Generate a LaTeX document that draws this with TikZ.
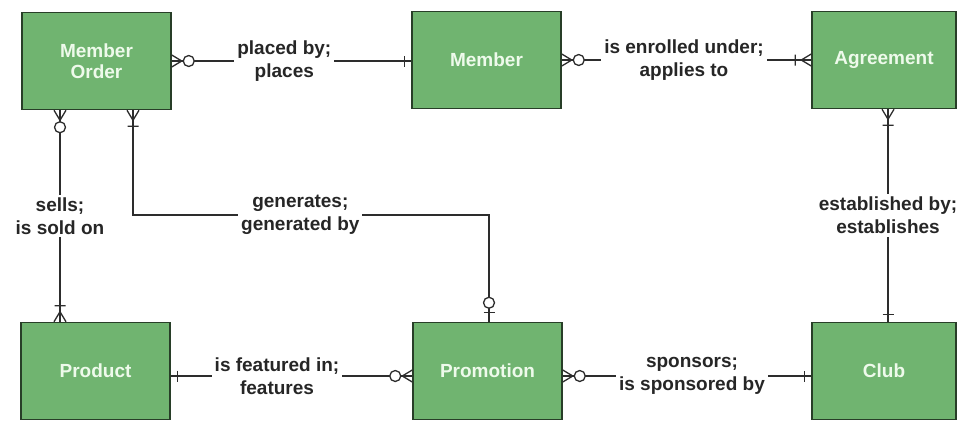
\documentclass[tikz,border=0pt]{standalone}
\usepackage{fontspec}
\setmainfont{Liberation Sans}
\definecolor{entfill}{RGB}{112,180,112}
\definecolor{entdraw}{RGB}{40,62,40}
\definecolor{conncol}{RGB}{45,45,45}
\begin{document}
\begin{tikzpicture}[x=1pt,y=-1pt,
  ent/.style={draw=entdraw, line width=1.5pt, fill=entfill, minimum width=149pt, minimum height=97pt,
    text={rgb,255:red,238;green,250;blue,235}, font=\fontsize{19}{21}\selectfont\bfseries, align=center, inner sep=0pt},
  conn/.style={draw=conncol, line width=1.3pt},
  lbl/.style={fill=white, font=\fontsize{19}{23}\selectfont\bfseries, align=center, inner sep=3pt, text=black!85},
  zmany/.pic={\draw[conn] (0,6)--(10,0) (0,-6)--(10,0); \draw[conn,fill=white] (17,0) circle[radius=5.5];},
  omany/.pic={\draw[conn] (0,6)--(10,0) (0,-6)--(10,0) (16,-5.5)--(16,5.5);},
  onemark/.pic={\draw[conn] (7,-5.5)--(7,5.5);},
  zone/.pic={\draw[conn] (9,-5.5)--(9,5.5); \draw[conn,fill=white] (19,0) circle[radius=5.5];}
]
\useasboundingbox (0,0) rectangle (957,421);

\node[ent] (mo)   at (96.5,61) {Member\\Order};
\node[ent] (mem)  at (486.5,60)  {Member};
\node[ent, minimum width=144pt] (agr) at (884,60) {Agreement};
\node[ent] (prod) at (95.5,371)  {Product};
\node[ent] (prom) at (487.5,371) {Promotion};
\node[ent, minimum width=144pt] (club) at (884,371) {Club};

\coordinate (gy) at (0,215);

% Member Order -- Member
\draw[conn] (mo.east) -- node[lbl,pos=0.47] {placed by;\\places} (mo.east -| mem.west);
\pic at (mo.east) {zmany};
\pic[rotate=180] at (mo.east -| mem.west) {onemark};

% Member -- Agreement
\draw[conn] (mem.east) -- node[lbl,pos=0.49] {is enrolled under;\\applies to} (agr.west);
\pic at (mem.east) {zmany};
\pic[rotate=180] at (agr.west) {omany};

% Member Order -- Product
\draw[conn] ([xshift=-36.5pt]mo.south) -- node[lbl,pos=0.5] {sells;\\is sold on} ([xshift=-35.5pt]prod.north);
\pic[rotate=-90] at ([xshift=-36.5pt]mo.south) {zmany};
\pic[rotate=90] at ([xshift=-35.5pt]prod.north) {omany};

% Member Order -- Promotion
\draw[conn] ([xshift=36.5pt]mo.south) -- ([xshift=36.5pt]mo.south |- gy)
  -- node[lbl,pos=0.47] {generates;\\generated by} ([xshift=1.5pt]prom.north |- gy)
  -- ([xshift=1.5pt]prom.north);
\pic[rotate=-90] at ([xshift=36.5pt]mo.south) {omany};
\pic[rotate=90] at ([xshift=1.5pt]prom.north) {zone};

% Agreement -- Club
\draw[conn] ([xshift=4pt]agr.south) -- node[lbl,pos=0.5] {established by;\\establishes} ([xshift=4pt]club.north);
\pic[rotate=-90] at ([xshift=4pt]agr.south) {omany};
\pic[rotate=90] at ([xshift=4pt]club.north) {onemark};

% Product -- Promotion
\draw[conn] ([yshift=-5pt]prod.east) -- node[lbl,pos=0.44] {is featured in;\\features} ([yshift=-5pt]prom.west);
\pic at ([yshift=-5pt]prod.east) {onemark};
\pic[rotate=180] at ([yshift=-5pt]prom.west) {zmany};

% Promotion -- Club
\draw[conn] ([yshift=-5pt]prom.east) -- node[lbl,pos=0.52] {sponsors;\\is sponsored by} ([yshift=-5pt]club.west);
\pic at ([yshift=-5pt]prom.east) {zmany};
\pic[rotate=180] at ([yshift=-5pt]club.west) {onemark};
\end{tikzpicture}
\end{document}
